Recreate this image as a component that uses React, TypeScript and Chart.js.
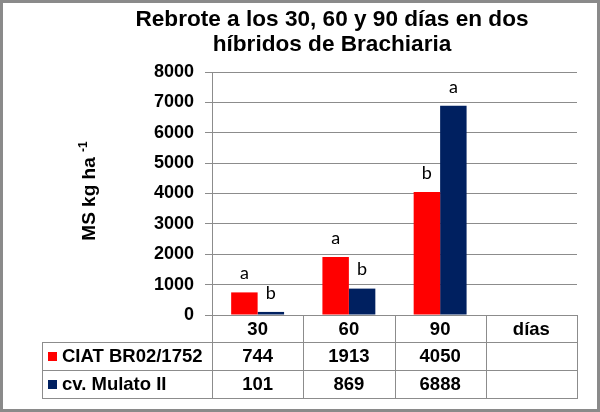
import React, { useEffect, useRef } from "react";
import { Chart, registerables } from "chart.js";

Chart.register(...registerables);

const categories = ["30", "60", "90", "días"];
const seriesNames = ["CIAT BR02/1752", "cv. Mulato II"];
const ciatValues = [744, 1913, 4050];
const mulatoValues = [101, 869, 6888];
const ciatLetters = ["a", "a", "b"];
const mulatoLetters = ["b", "b", "a"];
const yTicks = [0, 1000, 2000, 3000, 4000, 5000, 6000, 7000, 8000];
const titleLines = ["Rebrote a los 30, 60 y 90 días en dos", "híbridos de Brachiaria"];
const yTitleMain = "MS kg ha ";
const yTitleSup = "-1";

const RED = "#ff0000";
const BLUE = "#002060";
const GRID = "#8c8c8c";
const FONT = "'Liberation Sans', Arial, sans-serif";

const decorPlugin = {
  id: "decor",
  afterDraw(chart: any) {
    const ctx = chart.ctx as CanvasRenderingContext2D;
    const area = chart.chartArea;
    const xs = chart.scales.x;
    ctx.save();

    // outer frame
    ctx.strokeStyle = "#8a8a8a";
    ctx.lineWidth = 3;
    ctx.strokeRect(1.5, 1.5, 597, 409);

    // title
    ctx.fillStyle = "#000";
    ctx.font = `bold 22.6px ${FONT}`;
    ctx.textAlign = "center";
    ctx.textBaseline = "alphabetic";
    ctx.fillText(titleLines[0], 332, 26);
    ctx.fillText(titleLines[1], 332, 51);

    // y-axis title (rotated)
    ctx.save();
    ctx.translate(90, 191);
    ctx.rotate(-Math.PI / 2);
    ctx.font = `bold 19px ${FONT}`;
    const wMain = ctx.measureText(yTitleMain).width;
    ctx.font = `bold 12px ${FONT}`;
    const wSup = ctx.measureText(yTitleSup).width;
    const start = -(wMain + wSup) / 2;
    ctx.textAlign = "left";
    ctx.textBaseline = "middle";
    ctx.font = `bold 19px ${FONT}`;
    ctx.fillText(yTitleMain, start, 0);
    ctx.font = `bold 12px ${FONT}`;
    ctx.fillText(yTitleSup, start + wMain, -6);
    ctx.restore();

    // significance letters
    ctx.font = `18px Lato, 'Open Sans', sans-serif`;
    ctx.textAlign = "center";
    ctx.textBaseline = "middle";
    ctx.fillStyle = "#000";
    const letterSets = [ciatLetters, mulatoLetters];
    letterSets.forEach((letters, di) => {
      const meta = chart.getDatasetMeta(di);
      letters.forEach((l, i) => {
        const el = meta.data[i];
        if (!el) return;
        ctx.fillText(l, el.x, el.y - 19);
      });
    });

    // data table
    const n = categories.length;
    const cw = (area.right - area.left) / n;
    const r0 = area.bottom;
    const r1 = r0 + 27;
    const r2 = r1 + 28;
    const r3 = r2 + 28;
    const tableLeft = 42;
    ctx.strokeStyle = GRID;
    ctx.lineWidth = 1;
    ctx.beginPath();
    for (let k = 0; k <= n; k++) {
      const x = Math.round(area.left + k * cw) + 0.5;
      ctx.moveTo(x, r0);
      ctx.lineTo(x, r3);
    }
    ctx.moveTo(tableLeft + 0.5, r1);
    ctx.lineTo(tableLeft + 0.5, r3);
    [r1, r2, r3].forEach((y) => {
      ctx.moveTo(tableLeft, y + 0.5);
      ctx.lineTo(area.right + 1, y + 0.5);
    });
    ctx.stroke();

    ctx.font = `bold 18.5px ${FONT}`;
    ctx.fillStyle = "#000";
    ctx.textBaseline = "middle";
    ctx.textAlign = "center";
    categories.forEach((c, i) => {
      ctx.fillText(c, xs.getPixelForValue(i), (r0 + r1) / 2 + 1);
    });
    const rows = [
      { vals: ciatValues, color: RED, name: seriesNames[0], y: (r1 + r2) / 2 + 1 },
      { vals: mulatoValues, color: BLUE, name: seriesNames[1], y: (r2 + r3) / 2 + 1 },
    ];
    rows.forEach((r) => {
      ctx.textAlign = "center";
      ctx.fillStyle = "#000";
      r.vals.forEach((v, i) => {
        ctx.fillText(String(v), xs.getPixelForValue(i), r.y);
      });
      ctx.fillStyle = r.color;
      ctx.fillRect(48, Math.round(r.y - 5), 9, 9);
      ctx.fillStyle = "#000";
      ctx.textAlign = "left";
      ctx.fillText(r.name, 62, r.y);
    });

    ctx.restore();
  },
};

export default function App() {
  const ref = useRef<HTMLCanvasElement>(null);
  useEffect(() => {
    if (!ref.current) return;
    const chart = new Chart(ref.current, {
      type: "bar",
      data: {
        labels: categories,
        datasets: [
          {
            label: seriesNames[0],
            data: [...ciatValues, null],
            backgroundColor: RED,
            borderWidth: 0,
            categoryPercentage: 0.58,
            barPercentage: 1,
          },
          {
            label: seriesNames[1],
            data: [...mulatoValues, null],
            backgroundColor: BLUE,
            borderWidth: 0,
            categoryPercentage: 0.58,
            barPercentage: 1,
          },
        ],
      },
      options: {
        responsive: false,
        animation: false,
        devicePixelRatio: 1,
        layout: { padding: { left: 0, right: 23, top: 72, bottom: 97 } },
        plugins: {
          legend: { display: false },
          title: { display: false },
          tooltip: { enabled: false },
        },
        scales: {
          x: { display: false },
          y: {
            min: 0,
            max: 8000,
            afterFit: (s: any) => {
              s.width = 212;
            },
            afterBuildTicks: (s: any) => {
              s.ticks = yTicks.map((v) => ({ value: v }));
            },
            ticks: {
              color: "#000",
              font: { family: FONT, size: 18, weight: "bold" },
              padding: 11,
              callback: (v: any) => String(v),
            },
            grid: { color: GRID, tickLength: 7, drawTicks: true },
            border: { display: true, color: GRID },
          },
        },
      },
      plugins: [decorPlugin],
    });
    return () => chart.destroy();
  }, []);
  return (
    <div style={{ position: "absolute", left: 0, top: 0, width: 600, height: 412, background: "#fff" }}>
      <canvas ref={ref} width={600} height={412} style={{ display: "block" }} />
    </div>
  );
}
